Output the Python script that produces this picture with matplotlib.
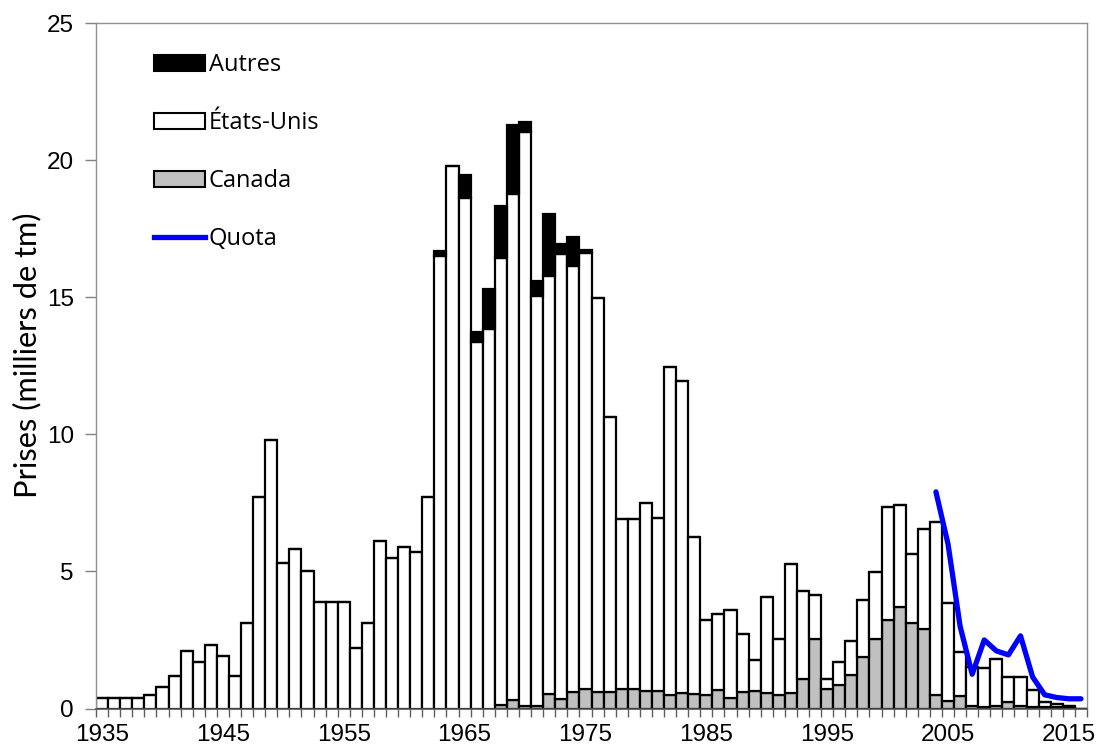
import matplotlib
matplotlib.use("Agg")
import matplotlib.pyplot as plt
from matplotlib.patches import Patch
from matplotlib.lines import Line2D
import numpy as np

years = list(range(1935, 2017))

total = [0.4, 0.4, 0.4, 0.4, 0.5, 0.8, 1.2, 2.1, 1.7, 2.3,
         1.9, 1.2, 3.1, 7.7, 9.8, 5.3, 5.8, 5.0, 3.9, 3.9,
         3.9, 2.2, 3.1, 6.1, 5.5, 5.9, 5.7, 7.7, 16.7, 19.8,
         19.45, 13.73, 15.3, 18.33, 21.28, 21.4, 15.6, 18.04, 16.95, 17.2,
         16.73, 14.96, 10.63, 6.92, 6.91, 7.5, 6.95, 12.46, 11.96, 6.24,
         3.24, 3.46, 3.58, 2.73, 1.76, 4.07, 2.53, 5.28, 4.29, 4.14,
         1.09, 1.68, 2.45, 3.97, 4.97, 7.35, 7.41, 5.65, 6.53, 6.8,
         3.84, 2.05, 1.5, 1.47, 1.79, 1.14, 1.15, 0.69, 0.24, 0.16,
         0.1, 0.0]

canada = [0, 0, 0, 0, 0, 0, 0, 0, 0, 0,
          0, 0, 0, 0, 0, 0, 0, 0, 0, 0,
          0, 0, 0, 0, 0, 0, 0, 0, 0, 0,
          0, 0, 0, 0.12, 0.32, 0.08, 0.1, 0.52, 0.33, 0.6,
          0.72, 0.6, 0.6, 0.71, 0.71, 0.64, 0.65, 0.51, 0.56, 0.52,
          0.51, 0.69, 0.4, 0.61, 0.64, 0.55, 0.49, 0.55, 1.09, 2.54,
          0.71, 0.85, 1.23, 1.86, 2.53, 3.24, 3.7, 3.11, 2.9, 0.51,
          0.27, 0.46, 0.1, 0.05, 0.08, 0.24, 0.1, 0.05, 0.05, 0.04,
          0.03, 0.0]

autres = [0, 0, 0, 0, 0, 0, 0, 0, 0, 0,
          0, 0, 0, 0, 0, 0, 0, 0, 0, 0,
          0, 0, 0, 0, 0, 0, 0, 0, 0.2, 0,
          0.85, 0.36, 1.45, 1.9, 2.5, 0.36, 0.56, 2.28, 0.38, 1.07,
          0.1, 0, 0, 0, 0, 0, 0, 0, 0, 0,
          0, 0, 0, 0, 0, 0, 0, 0, 0, 0,
          0, 0, 0, 0, 0, 0, 0, 0, 0, 0,
          0, 0, 0, 0, 0, 0, 0, 0, 0, 0,
          0, 0]

quota_years = list(range(2004, 2017))
quota = [7.9, 6.0, 3.0, 1.25, 2.5, 2.1, 1.956, 2.65, 1.15, 0.5, 0.4, 0.354, 0.354]

label_years = [1935, 1945, 1955, 1965, 1975, 1985, 1995, 2005, 2015]

total_a = np.array(total)
canada_a = np.array(canada)
autres_a = np.array(autres)
us_a = total_a - canada_a - autres_a

W, H = 1099, 749
fig = plt.figure(figsize=(W / 100, H / 100), dpi=100)
ax = fig.add_axes([96 / W, (H - 708.5) / H, (1087 - 96) / W, (708.5 - 23) / H])

x = np.arange(len(years))
lw = 1.6
ax.bar(x, canada_a, width=1.0, color="#C0C0C0", edgecolor="black", linewidth=lw, zorder=2)
ax.bar(x, us_a, bottom=canada_a, width=1.0, color="white", edgecolor="black", linewidth=lw, zorder=2)
ax.bar(x, autres_a, bottom=canada_a + us_a, width=1.0, color="black", edgecolor="black", linewidth=lw, zorder=2)

qx = [years.index(y) for y in quota_years]
ax.plot(qx, quota, color="#0000FF", linewidth=3.8, solid_capstyle="round",
        solid_joinstyle="round", zorder=3)

ax.set_xlim(-0.5, len(years) - 0.5)
ax.set_ylim(0, 25)

tick_font = {"family": "Liberation Sans", "size": 17.5}
ax.set_xticks([years.index(y) for y in label_years])
ax.set_xticklabels([str(y) for y in label_years], fontdict=tick_font)
ax.set_xticks(np.arange(-0.5, len(years) - 0.4, 1.0), minor=True)
ax.tick_params(axis="x", which="major", length=0, pad=11)
ax.tick_params(axis="x", which="minor", length=6, width=1, color="#606060", direction="out")

ax.set_yticks([0, 5, 10, 15, 20, 25])
ax.set_yticklabels(["0", "5", "10", "15", "20", "25"], fontdict=tick_font)
ax.tick_params(axis="y", length=8, width=1, color="#808080", direction="out", pad=8)

# y label: size chosen so the text is about 285 px long, centred near y=355 px
ylab = ax.set_ylabel("Prises (milliers de tm)", fontsize=23, family="Lato")
renderer = fig.canvas.get_renderer()
for _ in range(2):
    ext = ylab.get_window_extent(renderer)
    ylab.set_fontsize(ylab.get_fontsize() * 285.0 / ext.height)
ax.yaxis.set_label_coords((41 - 96) / 991, (708.5 - 355) / 685.5)

for s in ["left", "top", "right"]:
    ax.spines[s].set_color("#909090")
    ax.spines[s].set_linewidth(1)
ax.spines["bottom"].set_color("#505050")
ax.spines["bottom"].set_linewidth(1.2)

handles = [
    Patch(facecolor="black", edgecolor="black", linewidth=1.5),
    Patch(facecolor="white", edgecolor="black", linewidth=1.5),
    Patch(facecolor="#C0C0C0", edgecolor="black", linewidth=1.5),
    Line2D([0], [0], color="#0000FF", linewidth=3.8),
]
labels = ["Autres", "États-Unis", "Canada", "Quota"]
fs_leg = 17
leg = ax.legend(handles, labels, loc="upper left", bbox_to_anchor=(57 / 991 - 0.0085, 1 - 21 / 685.5),
                frameon=False, prop={"family": "Open Sans", "size": fs_leg},
                handlelength=51 / (fs_leg * 100 / 72), handleheight=0.64, handletextpad=0.15,
                labelspacing=1.44, borderaxespad=0)

fig.savefig("out.png", dpi=100)
